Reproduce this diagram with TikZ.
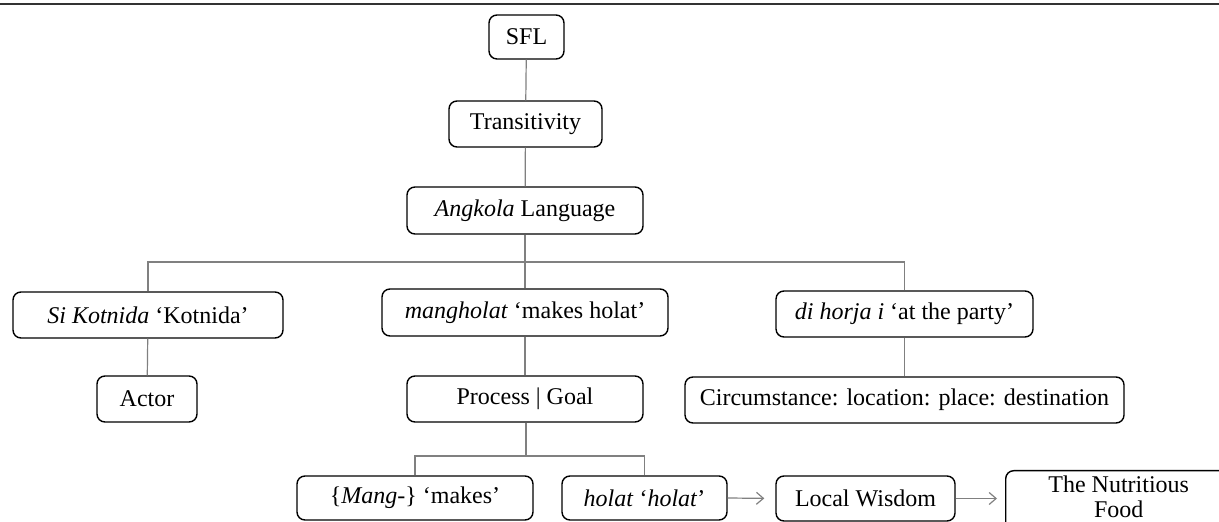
\documentclass[tikz,border=0pt]{standalone}
\usepackage{fontspec}
\setmainfont{Liberation Serif}
\usepackage{tikz}
\usetikzlibrary{arrows.meta}
\usetikzlibrary{calc}

\begin{document}
\begin{tikzpicture}[x=0.5pt,y=-0.5pt,
				every node/.style={font=\fontsize{12}{12.5}\selectfont},
				box/.style={draw,rounded corners=4pt,line width=0.7pt,inner sep=0pt,align=center},
				link/.style={draw=black!50,line width=0.6pt},
				arr/.style={link,-{Straight Barb[length=3.5pt,width=6pt]}}]
				\clip (0,0) rectangle (1219,522);
				\draw[line width=1.3pt,black!80] (0,4) -- (1219,4);
				
				\node[box,minimum width=37.5pt,minimum height=22pt] (sfl) at (526.5,37) {SFL};
				\node[box,minimum width=76.5pt,minimum height=23pt] (trans) at (525.5,124) {Transitivity};
				\node[box,minimum width=118pt,minimum height=23.5pt] (angk) at (525,210.5) {\textit{Angkola} Language};
				
				\node[box,minimum width=135pt,minimum height=23pt] (siko) at (148,315) {\textit{Si Kotnida} `Kotnida'};
				\node[box,minimum width=143pt,minimum height=23.5pt] (mang) at (525,312.5) {\textit{mangholat} `makes holat'};
				\node[box,minimum width=128.5pt,minimum height=23pt] (horja) at (904.5,314) {\textit{di horja i} `at the party'};
				
				\node[box,minimum width=50pt,minimum height=23pt] (actor) at (147,399) {Actor};
				\node[box,minimum width=118pt,minimum height=23pt] (procg) at (525,399) {Process | Goal};
				\node[box,minimum width=219.5pt,minimum height=23pt] (circ) at (904.5,400) {Circumstance: location: place: destination};
				
				\node[box,minimum width=118pt,minimum height=22pt] (mangp) at (415,498) {\{\textit{Mang-}\} `makes'};
				\node[box,minimum width=82.5pt,minimum height=22pt] (holat) at (644.5,498) {\textit{holat} `\textit{holat}'};
				\node[box,minimum width=89.5pt,minimum height=22.5pt] (wisdom) at (865.5,498.5) {Local Wisdom};
				\node[box,anchor=north west,minimum width=113pt,inner ysep=2.5pt] (food) at (1005,470) {The Nutritious\\Food\\[6pt]};
				
				\coordinate (bar) at (526,262);
				\coordinate (bar2) at (526,456);
				
				\draw[link] (sfl) -- (trans);
				\draw[link] (trans) -- (angk);
				\draw[link] (angk) -- (mang);
				\draw[link] (siko.north) |- (bar) -| (horja.north);
				\draw[link] (siko) -- (actor);
				\draw[link] (mang.south) -- (mang.south |- procg.north);
				\draw[link] (horja.south) -- (horja.south |- circ.north);
				\draw[link] (procg.south -| bar2) -- (bar2);
				\draw[link] (mangp.north) |- (bar2) -| (holat.north);
				\draw[arr,shorten >=5.5pt] (holat.east) -- (wisdom.west);
				\draw[arr,shorten >=4pt] (wisdom.east) -- (wisdom.east -| food.west);
			\end{tikzpicture}
\end{document}
